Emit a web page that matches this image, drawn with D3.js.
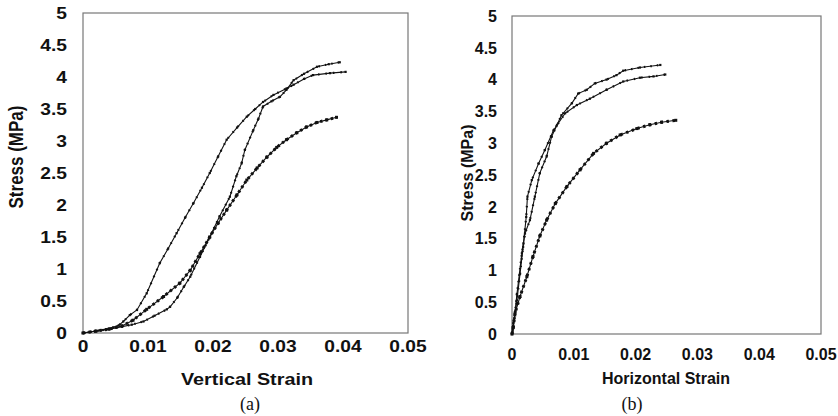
<!DOCTYPE html>
<html>
<head>
<meta charset="utf-8">
<script src="https://cdn.jsdelivr.net/npm/d3@7"></script>
<style>
  body { margin: 0; background: #fff; }
  svg text { font-family: "Liberation Sans", Arial, sans-serif; font-weight: bold; fill: #111; }
  svg text.cap { font-family: "Liberation Serif", serif; font-weight: normal; }
</style>
</head>
<body>
<div id="chart"></div>
<script>
// ---- data ----
const yTicks = [0, 0.5, 1, 1.5, 2, 2.5, 3, 3.5, 4, 4.5, 5];
const xTicks = [0, 0.01, 0.02, 0.03, 0.04, 0.05];

// (a) vertical strain
const vA_x = [0, 0.002, 0.004, 0.006, 0.0075, 0.0093, 0.011, 0.0129, 0.0134, 0.0145, 0.0155, 0.0165, 0.018, 0.0195, 0.021, 0.0226, 0.0236, 0.0244, 0.0249, 0.0262, 0.027, 0.0277, 0.029, 0.0303, 0.0313, 0.0324, 0.034, 0.036, 0.0378, 0.0395];
const vA_y = [0, 0.03, 0.06, 0.1, 0.13, 0.18, 0.27, 0.37, 0.41, 0.55, 0.72, 0.88, 1.19, 1.5, 1.82, 2.13, 2.45, 2.65, 2.86, 3.17, 3.35, 3.54, 3.62, 3.69, 3.8, 3.95, 4.05, 4.16, 4.2, 4.23];
const vB_x = [0, 0.002, 0.004, 0.0055, 0.0062, 0.0072, 0.0083, 0.0098, 0.0118, 0.0131, 0.0144, 0.0157, 0.017, 0.0183, 0.0195, 0.0208, 0.0221, 0.0237, 0.0252, 0.0265, 0.0277, 0.0293, 0.0313, 0.0324, 0.034, 0.0354, 0.038, 0.0404];
const vB_y = [0, 0.03, 0.07, 0.12, 0.18, 0.28, 0.36, 0.62, 1.09, 1.32, 1.56, 1.8, 2.03, 2.27, 2.5, 2.76, 3.02, 3.21, 3.38, 3.5, 3.61, 3.72, 3.82, 3.88, 3.97, 4.03, 4.06, 4.08];
const vC_x = [0, 0.002, 0.004, 0.006, 0.0077, 0.0098, 0.0124, 0.0149, 0.0165, 0.018, 0.0195, 0.0208, 0.0221, 0.0237, 0.0252, 0.0268, 0.0283, 0.0298, 0.0313, 0.0329, 0.0344, 0.036, 0.0375, 0.039];
const vC_y = [0, 0.03, 0.06, 0.11, 0.2, 0.37, 0.57, 0.78, 0.98, 1.24, 1.5, 1.72, 1.92, 2.16, 2.39, 2.58, 2.75, 2.9, 3.02, 3.13, 3.22, 3.29, 3.33, 3.37];

// (b) horizontal strain
const hA_x = [0, 0.0001, 0.0002, 0.0005, 0.0008, 0.0016, 0.0021, 0.0029, 0.0037, 0.0045, 0.0056, 0.0064, 0.0072, 0.008, 0.0097, 0.0107, 0.0121, 0.0134, 0.0153, 0.0169, 0.018, 0.0207, 0.024];
const hA_y = [0, 0.08, 0.17, 0.35, 0.63, 1.27, 1.58, 1.79, 2.16, 2.53, 2.79, 3.1, 3.27, 3.44, 3.63, 3.78, 3.84, 3.94, 4.0, 4.07, 4.14, 4.19, 4.23];
const hB_x = [0, 0.0001, 0.0002, 0.0004, 0.0008, 0.0013, 0.0018, 0.0023, 0.0025, 0.0032, 0.0043, 0.0053, 0.0067, 0.0086, 0.0105, 0.0126, 0.0153, 0.018, 0.0207, 0.0229, 0.0248];
const hB_y = [0, 0.05, 0.12, 0.25, 0.53, 0.95, 1.37, 1.84, 2.16, 2.42, 2.68, 2.89, 3.2, 3.47, 3.6, 3.7, 3.84, 3.97, 4.03, 4.05, 4.08];
const hC_x = [0, 0.0002, 0.0005, 0.0013, 0.0024, 0.0034, 0.0045, 0.0056, 0.007, 0.0089, 0.011, 0.0132, 0.0153, 0.0175, 0.0202, 0.0223, 0.0242, 0.0265];
const hC_y = [0, 0.1, 0.33, 0.59, 0.9, 1.22, 1.54, 1.79, 2.05, 2.32, 2.58, 2.84, 3.0, 3.13, 3.23, 3.29, 3.33, 3.36];

const zip = (xs, ys) => xs.map((x, i) => ({x: x, y: ys[i]}));

const svg = d3.select("#chart").append("svg")
    .attr("width", 838)
    .attr("height", 416);

function drawPanel(p) {
    let x = d3.scaleLinear().domain([0, 0.05]).range([p.left, p.right]);
    let y = d3.scaleLinear().domain([0, 5]).range([p.bottom, p.top]);
    let g = svg.append("g");
    let sx = p.stretch;   // panel (a) lettering is drawn wider

    // frame
    g.append("rect")
        .attr("x", p.left).attr("y", p.top)
        .attr("width", p.right - p.left).attr("height", p.bottom - p.top)
        .attr("fill", "none").attr("stroke", "#777").attr("stroke-width", 1.2);

    // y tick labels
    g.selectAll(".yt").data(yTicks).enter().append("text")
        .attr("transform", d => `translate(${p.left - p.yPad},${y(d)}) scale(${sx},1)`)
        .attr("dy", "0.36em")
        .attr("text-anchor", "end")
        .style("font-size", p.tickSize + "px")
        .text(d => d);

    // x tick labels
    g.selectAll(".xt").data(xTicks).enter().append("text")
        .attr("transform", d => `translate(${x(d)},${p.xTickY}) scale(${sx},1)`)
        .attr("text-anchor", "middle")
        .style("font-size", p.tickSize + "px")
        .text(d => d);

    // titles
    g.append("text")
        .attr("transform", `translate(${p.xTitleX},${p.xTitleY}) scale(${sx},1)`)
        .attr("text-anchor", "middle")
        .style("font-size", p.titleSize + "px")
        .text(p.xTitle);

    g.append("text")
        .attr("transform", `translate(${p.yTitleX},${p.yTitleY}) rotate(-90) scale(1,${sx})`)
        .attr("text-anchor", "middle")
        .attr("dy", "0.36em")
        .style("font-size", p.yTitleSize + "px")
        .text("Stress (MPa)");

    g.append("text")
        .attr("class", "cap")
        .attr("x", p.capX).attr("y", 410)
        .attr("text-anchor", "middle")
        .style("font-size", "18px")
        .text(p.cap);

    let line = d3.line().x(d => x(d.x)).y(d => y(d.y));

    p.series.forEach(s => {
        let pts = zip(s.xs, s.ys);
        g.append("path").datum(pts)
            .attr("d", line)
            .attr("fill", "none")
            .attr("stroke", "#111")
            .attr("stroke-width", 1.1);
        // dotted overlay standing in for the dense markers
        g.append("path").datum(pts)
            .attr("d", line)
            .attr("fill", "none")
            .attr("stroke", "#111")
            .attr("stroke-width", s.m)
            .attr("stroke-dasharray", s.dash);
        g.selectAll(null).data(pts).enter().append("rect")
            .attr("x", d => x(d.x) - s.m / 2)
            .attr("y", d => y(d.y) - s.m / 2)
            .attr("width", s.m).attr("height", s.m)
            .attr("fill", "#111");
    });
}

drawPanel({
    left: 83, right: 408, top: 13, bottom: 333,
    stretch: 1.2,
    yPad: 16, xTickY: 352, tickSize: 16,
    xTitle: "Vertical Strain", xTitleX: 247, xTitleY: 385, titleSize: 16.5,
    yTitleX: 16, yTitleY: 157, yTitleSize: 17,
    cap: "(a)", capX: 250,
    series: [
        {xs: vA_x, ys: vA_y, m: 2.2, dash: "1.5 5"},
        {xs: vB_x, ys: vB_y, m: 2.2, dash: "1.5 6"},
        {xs: vC_x, ys: vC_y, m: 3, dash: "2.5 3"}
    ]
});

drawPanel({
    left: 512, right: 821, top: 16, bottom: 334,
    stretch: 1,
    yPad: 15, xTickY: 360, tickSize: 16,
    xTitle: "Horizontal Strain", xTitleX: 666, xTitleY: 384, titleSize: 16,
    yTitleX: 467, yTitleY: 173, yTitleSize: 16,
    cap: "(b)", capX: 632,
    series: [
        {xs: hA_x, ys: hA_y, m: 2.2, dash: "1.5 5"},
        {xs: hB_x, ys: hB_y, m: 2.2, dash: "1.5 6"},
        {xs: hC_x, ys: hC_y, m: 3, dash: "2.5 3.5"}
    ]
});
</script>
</body>
</html>
